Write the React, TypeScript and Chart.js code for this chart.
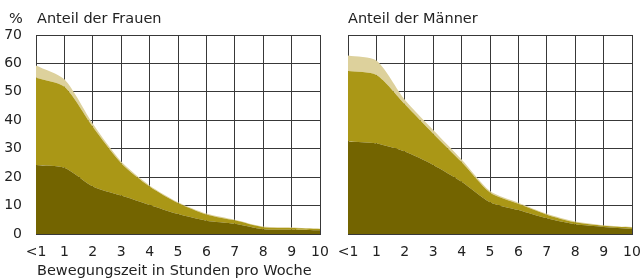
import React, { useEffect, useRef } from 'react';
import { Chart, registerables } from 'chart.js';
Chart.register(...registerables);

const categories = ['<1', '1', '2', '3', '4', '5', '6', '7', '8', '9', '10'];
const yMin = 0;
const yMax = 70;
const yStep = 10;

// Frauen (layer values, stacked)
const womenLow = [24.3, 23.3, 16.7, 13.5, 10.2, 7.0, 4.7, 3.6, 1.7, 1.5, 1.3];
const womenMid = [30.7, 28.5, 21.0, 11.4, 6.5, 3.9, 2.2, 1.2, 0.7, 0.6, 0.5];
const womenHigh = [4.3, 2.6, 1.1, 0.6, 0.4, 0.3, 0.3, 0.2, 0.2, 0.2, 0.1];

// Männer (layer values, stacked)
const menLow = [32.5, 31.8, 29.0, 24.3, 18.4, 11.2, 8.4, 5.5, 3.4, 2.5, 1.8];
const menMid = [24.8, 24.1, 16.6, 11.0, 6.9, 3.4, 2.2, 1.3, 0.7, 0.4, 0.5];
const menHigh = [5.5, 5.1, 1.6, 1.3, 0.9, 0.5, 0.4, 0.3, 0.3, 0.2, 0.2];

const titleWomen = 'Anteil der Frauen';
const titleMen = 'Anteil der Männer';
const unitLabel = '%';
const xCaption = 'Bewegungszeit in Stunden pro Woche';

const DARK = '#736400';
const MID = '#aa9716';
const LIGHT = '#ddd19c';
const GRID = '#383838';
const TEXT = '#222222';
const FONT = "'DejaVu Sans', sans-serif";

type PanelProps = {
  left: number;
  width: number;
  yWidth: number;
  padRight: number;
  showY: boolean;
  low: number[];
  mid: number[];
  high: number[];
};

function Panel({ left, width, yWidth, padRight, showY, low, mid, high }: PanelProps) {
  const ref = useRef<HTMLCanvasElement | null>(null);
  useEffect(() => {
    if (!ref.current) return;
    const common = { borderWidth: 0, pointRadius: 0, tension: 0.25 };
    const chart = new Chart(ref.current, {
      type: 'line',
      data: {
        labels: categories,
        datasets: [
          { data: low, backgroundColor: DARK, fill: 'origin', ...common },
          { data: mid, backgroundColor: MID, fill: '-1', ...common },
          { data: high, backgroundColor: LIGHT, fill: '-1', ...common },
        ],
      },
      options: {
        animation: false,
        responsive: false,
        maintainAspectRatio: false,
        layout: { padding: { top: 35, right: padRight, left: 0, bottom: 0 } },
        plugins: { legend: { display: false }, tooltip: { enabled: false }, title: { display: false } },
        scales: {
          x: {
            type: 'category',
            offset: false,
            grid: { color: GRID, lineWidth: 1, drawTicks: false },
            border: { color: GRID, width: 1 },
            ticks: {
              padding: 10,
              autoSkip: false,
              maxRotation: 0,
              color: TEXT,
              font: { family: FONT, size: 14 },
            },
            afterFit: (s: any) => {
              s.height = 46;
              s.paddingLeft = 0;
              s.paddingRight = 0;
            },
          },
          y: {
            stacked: true,
            min: yMin,
            max: yMax,
            grid: { color: GRID, lineWidth: 1, drawTicks: false },
            border: { color: GRID, width: 1 },
            ticks: {
              display: showY,
              stepSize: yStep,
              padding: 14,
              color: TEXT,
              font: { family: FONT, size: 14 },
            },
            afterFit: (s: any) => {
              s.width = yWidth;
              s.paddingTop = 0;
              s.paddingBottom = 0;
            },
          },
        },
      },
    } as any);
    return () => chart.destroy();
  }, []);
  return (
    <canvas
      ref={ref}
      width={width}
      height={280}
      style={{ position: 'absolute', left, top: 0, width, height: 280 }}
    />
  );
}

const textStyle: React.CSSProperties = {
  position: 'absolute',
  fontFamily: FONT,
  fontSize: 14.5,
  lineHeight: '16px',
  color: TEXT,
  whiteSpace: 'nowrap',
};

export default function App() {
  return (
    <div
      style={{
        position: 'fixed',
        left: 0,
        top: 0,
        width: 642,
        height: 280,
        background: '#ffffff',
        overflow: 'hidden',
      }}
    >
      <Panel left={0} width={330} yWidth={36} padRight={10} showY={true} low={womenLow} mid={womenMid} high={womenHigh} />
      <Panel left={328} width={314} yWidth={20} padRight={10} showY={false} low={menLow} mid={menMid} high={menHigh} />
      <div style={{ ...textStyle, left: 9, top: 10 }}>{unitLabel}</div>
      <div style={{ ...textStyle, left: 37, top: 10 }}>{titleWomen}</div>
      <div style={{ ...textStyle, left: 348, top: 10 }}>{titleMen}</div>
      <div style={{ ...textStyle, left: 37, top: 262 }}>{xCaption}</div>
    </div>
  );
}
